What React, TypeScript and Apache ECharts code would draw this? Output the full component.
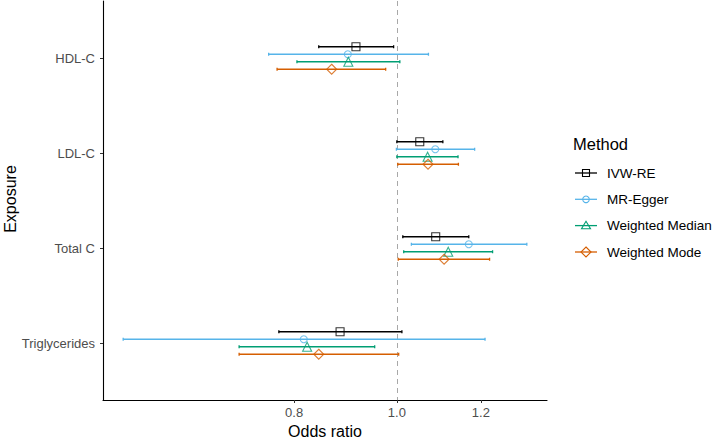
import React, { useEffect, useRef } from "react";
import * as echarts from "echarts";

const exposures = ["HDL-C", "LDL-C", "Total C", "Triglycerides"];
const methods = ["IVW-RE", "MR-Egger", "Weighted Median", "Weighted Mode"];
const colors = ["#000000", "#56B4E9", "#009E73", "#D55E00"];
const symbols = ["rect", "circle", "triangle", "diamond"];
const symbolSizes = [8, 7, 9, 10];

// odds ratios per method, in exposure order
const orIVW = [0.915, 1.051, 1.088, 0.884];
const loIVW = [0.844, 1.0, 1.013, 0.774];
const hiIVW = [0.993, 1.105, 1.169, 1.011];

const orEgger = [0.899, 1.087, 1.169, 0.817];
const loEgger = [0.757, 0.999, 1.032, 0.552];
const hiEgger = [1.071, 1.184, 1.326, 1.211];

const orMedian = [0.9, 1.069, 1.118, 0.823];
const loMedian = [0.805, 1.0, 1.015, 0.71];
const hiMedian = [1.0065, 1.142, 1.231, 0.953];

const orMode = [0.868, 1.07, 1.108, 0.844];
const loMode = [0.771, 1.002, 1.003, 0.71];
const hiMode = [0.976, 1.143, 1.223, 1.004];

const xTicks = [0.8, 1.0, 1.2];

const estimates = [orIVW, orEgger, orMedian, orMode];
const lowers = [loIVW, loEgger, loMedian, loMode];
const uppers = [hiIVW, hiEgger, hiMedian, hiMode];

const FONT = "'Liberation Sans', Arial, sans-serif";
const DODGE = 0.079;

export default function App() {
  const ref = useRef<HTMLDivElement>(null);
  useEffect(() => {
    if (!ref.current) return;
    const chart = echarts.init(ref.current, undefined, { renderer: "svg" });

    const allLo = lowers.flat().map(Math.log);
    const allHi = uppers.flat().map(Math.log);
    const dMin = Math.min(...allLo);
    const dMax = Math.max(...allHi);
    const pad = (dMax - dMin) * 0.05;

    const series: any[] = [];
    methods.forEach((m, k) => {
      const off = (k - 1.5) * DODGE;
      const c = colors[k];
      series.push({
        type: "custom",
        name: m + " CI",
        silent: true,
        data: exposures.map((_, i) => [
          Math.log(lowers[k][i]),
          Math.log(uppers[k][i]),
          i + off,
        ]),
        encode: { x: [0, 1], y: 2 },
        renderItem: (params: any, api: any) => {
          const p1 = api.coord([api.value(0), api.value(2)]);
          const p2 = api.coord([api.value(1), api.value(2)]);
          const st = { stroke: c, lineWidth: 1.3 };
          return {
            type: "group",
            children: [
              { type: "line", shape: { x1: p1[0], y1: p1[1], x2: p2[0], y2: p2[1] }, style: st },
              { type: "line", shape: { x1: p1[0], y1: p1[1] - 1.5, x2: p1[0], y2: p1[1] + 1.5 }, style: st },
              { type: "line", shape: { x1: p2[0], y1: p2[1] - 1.5, x2: p2[0], y2: p2[1] + 1.5 }, style: st },
            ],
          };
        },
        ...(k === 0
          ? {
              markLine: {
                silent: true,
                symbol: "none",
                label: { show: false },
                lineStyle: { color: "#a8a8a8", type: [5, 4], width: 1 },
                data: [{ xAxis: 0 }],
                z: 1,
              },
            }
          : {}),
      });
      series.push({
        type: "scatter",
        name: m,
        silent: true,
        symbol: symbols[k],
        symbolSize: symbolSizes[k],
        itemStyle: { color: "none", borderColor: c, borderWidth: 1.1 },
        data: exposures.map((_, i) => [Math.log(estimates[k][i]), i + off]),
        z: 3,
      });
    });

    // legend and y-axis title drawn as graphic
    const legendRows = [173, 199.3, 225.6, 252];
    const graphics: any[] = [
      {
        type: "text",
        x: 10,
        y: 199,
        rotation: Math.PI / 2,
        style: {
          text: "Exposure",
          font: `16px ${FONT}`,
          fill: "#000",
          align: "center",
          verticalAlign: "middle",
        },
      },
      {
        type: "text",
        x: 573,
        y: 144,
        style: { text: "Method", font: `16.5px ${FONT}`, fill: "#000", verticalAlign: "middle" },
      },
    ];
    methods.forEach((m, k) => {
      const y = legendRows[k];
      const c = colors[k];
      graphics.push({
        type: "line",
        shape: { x1: 575, y1: y, x2: 597, y2: y },
        style: { stroke: c, lineWidth: 1.3 },
      });
      const cx = 586;
      let shape: any;
      const st = { stroke: c, fill: "none", lineWidth: 1.1 };
      if (k === 0) shape = { type: "rect", shape: { x: cx - 3.5, y: y - 3.5, width: 7, height: 7 }, style: st };
      else if (k === 1) shape = { type: "circle", shape: { cx, cy: y, r: 3.3 }, style: st };
      else if (k === 2)
        shape = { type: "polygon", shape: { points: [[cx, y - 4.3], [cx + 4.5, y + 3.2], [cx - 4.5, y + 3.2]] }, style: st };
      else
        shape = { type: "polygon", shape: { points: [[cx, y - 5], [cx + 5, y], [cx, y + 5], [cx - 5, y]] }, style: st };
      graphics.push(shape);
      graphics.push({
        type: "text",
        x: 607,
        y: y,
        style: { text: m, font: `13.5px ${FONT}`, fill: "#000", verticalAlign: "middle" },
      });
    });

    chart.setOption({
      animation: false,
      grid: { left: 103, right: 167, top: 1, bottom: 39, containLabel: false, outerBoundsMode: "none" },
      xAxis: {
        type: "value",
        min: dMin - pad,
        max: dMax + pad,
        name: "Odds ratio",
        nameLocation: "middle",
        nameGap: 23,
        nameTextStyle: { fontFamily: FONT, fontSize: 16, color: "#000" },
        axisLine: { show: true, onZero: false, lineStyle: { color: "#000", width: 1.1 } },
        axisTick: { show: true, length: 3, customValues: xTicks.map(Math.log), lineStyle: { color: "#333" } },
        axisLabel: {
          customValues: xTicks.map(Math.log),
          formatter: (v: number) => Math.exp(v).toFixed(1),
          fontFamily: FONT,
          fontSize: 13,
          color: "#4d4d4d",
          margin: 6,
        },
        splitLine: { show: false },
      },
      yAxis: {
        type: "value",
        inverse: true,
        min: -0.6,
        max: 3.6,
        axisLine: { show: true, onZero: false, lineStyle: { color: "#000", width: 1.1 } },
        axisTick: { show: true, length: 3, customValues: [0, 1, 2, 3], lineStyle: { color: "#333" } },
        axisLabel: {
          customValues: [0, 1, 2, 3],
          formatter: (v: number) => exposures[Math.round(v)] ?? "",
          fontFamily: FONT,
          fontSize: 13,
          color: "#4d4d4d",
          margin: 8,
        },
        splitLine: { show: false },
      },
      graphic: graphics,
      series,
    });
    return () => chart.dispose();
  }, []);
  return (
    <div
      ref={ref}
      style={{ position: "fixed", left: 0, top: 0, width: 714, height: 439, background: "#fff" }}
    />
  );
}
